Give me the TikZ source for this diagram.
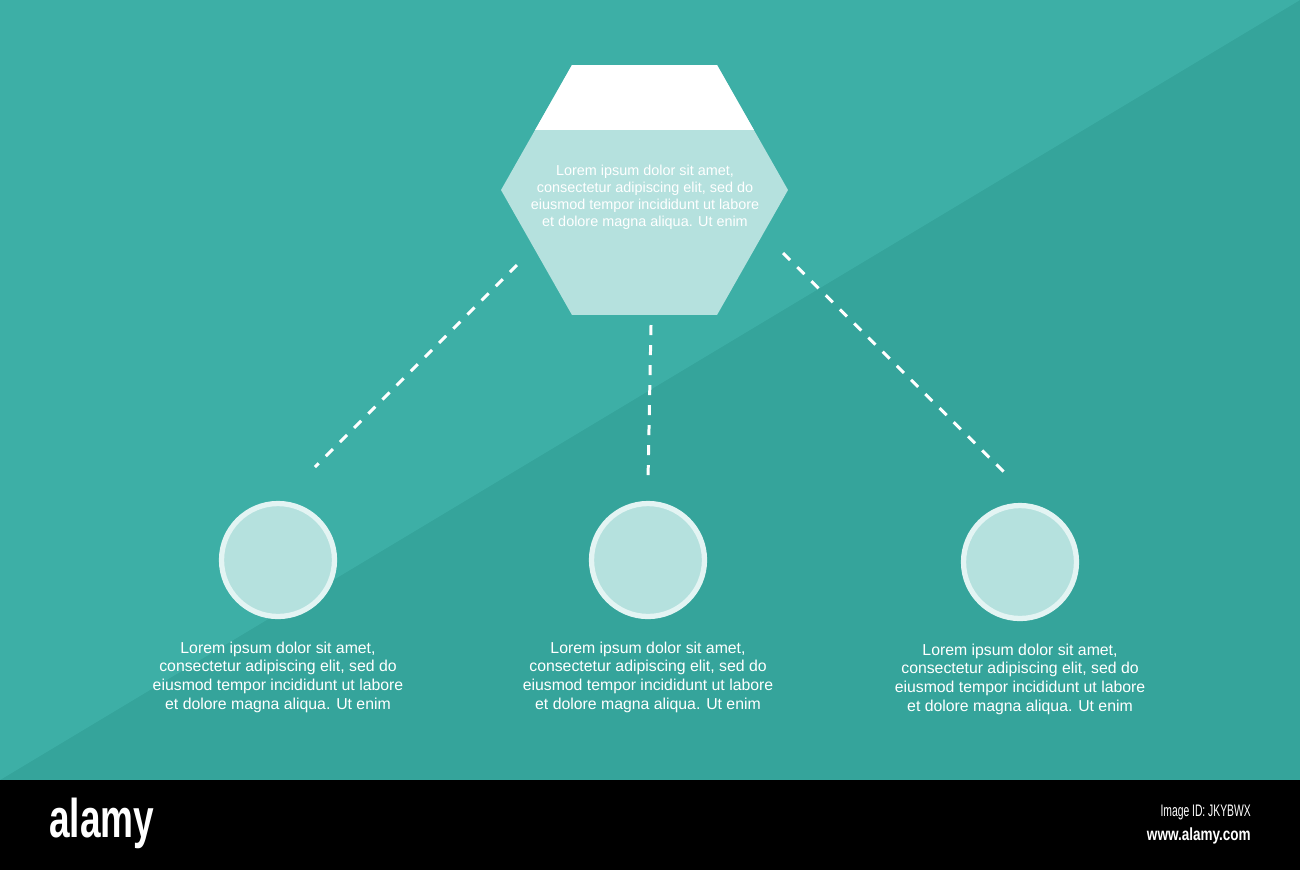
\documentclass[tikz,border=0pt]{standalone}
\usepackage{fontspec}
\setmainfont{Liberation Sans}
\definecolor{tealLight}{HTML}{3DAFA6}
\definecolor{tealDark}{HTML}{35A49B}
\definecolor{paleTeal}{HTML}{B5E1DE}
\definecolor{ringTeal}{HTML}{E3F4F3}
\tikzset{
  blurb/.style={text=white,align=center,inner sep=0pt,font=\fontsize{9}{10.6}\selectfont},
  hexblurb/.style={blurb,font=\fontsize{8.2}{9.7}\selectfont},
  link/.style={white,line width=1.7pt,dash pattern=on 5.7pt off 5.7pt},
  bubble/.style={circle,draw=ringTeal,line width=3pt,fill=paleTeal,inner sep=0pt,minimum size=2.26cm}
}
\begin{document}
\begin{tikzpicture}[x=0.02cm,y=-0.02cm]
    \useasboundingbox (0,0) rectangle (1300,870);
    % background
    \fill[tealDark] (0,0) rectangle (1300,780);
    \fill[tealLight] (0,0) -- (1300,0) -- (0,780) -- cycle;
    \fill[black] (0,780) rectangle (1300,870);
    % hexagon
    \begin{scope}
        \clip (572,65) -- (717,65) -- (788,190) -- (717,315) -- (572,315) -- (501,190) -- cycle;
        \fill[paleTeal] (501,65) rectangle (788,315);
        \fill[white] (501,65) rectangle (788,130);
    \end{scope}
    \node[hexblurb] (hex) at (645,197) {Lorem ipsum dolor sit amet,\\consectetur adipiscing elit, sed do\\eiusmod tempor incididunt ut labore\\et dolore magna aliqua. Ut enim};
    % circles
    \node[bubble] (c1) at (278,560) {};
    \node[bubble] (c2) at (648,560) {};
    \node[bubble] (c3) at (1020,562) {};
    \node[blurb] (t1) at (278,677) {Lorem ipsum dolor sit amet,\\consectetur adipiscing elit, sed do\\eiusmod tempor incididunt ut labore\\et dolore magna aliqua. Ut enim};
    \node[blurb] (t2) at (648,677) {Lorem ipsum dolor sit amet,\\consectetur adipiscing elit, sed do\\eiusmod tempor incididunt ut labore\\et dolore magna aliqua. Ut enim};
    \node[blurb] (t3) at (1020,679) {Lorem ipsum dolor sit amet,\\consectetur adipiscing elit, sed do\\eiusmod tempor incididunt ut labore\\et dolore magna aliqua. Ut enim};
    % dashed links
    \coordinate (l1a) at (517,265);
    \coordinate (l1b) at (315,467);
    \coordinate (l2a) at (651,325);
    \coordinate (l2b) at (648,480);
    \coordinate (l3a) at (783,253);
    \coordinate (l3b) at (1005,473);
    \draw[link] (l1a) -- (l1b);
    \draw[link] (l2a) -- (l2b);
    \draw[link] (l3a) -- (l3b);
    % footer
    \node[white,anchor=west,inner sep=0pt,xscale=0.68,font=\bfseries\fontsize{31}{31}\selectfont] (logo) at (49,823) {alamy};
    \node[white,anchor=east,inner sep=0pt,xscale=0.62,font=\fontsize{9.5}{9.5}\selectfont] (imgid) at (1251,812) {Image ID: JKYBWX};
    \node[white,anchor=east,inner sep=0pt,xscale=0.77,font=\bfseries\fontsize{10}{10}\selectfont] (url) at (1251,836) {www.alamy.com};
\end{tikzpicture}
\end{document}
